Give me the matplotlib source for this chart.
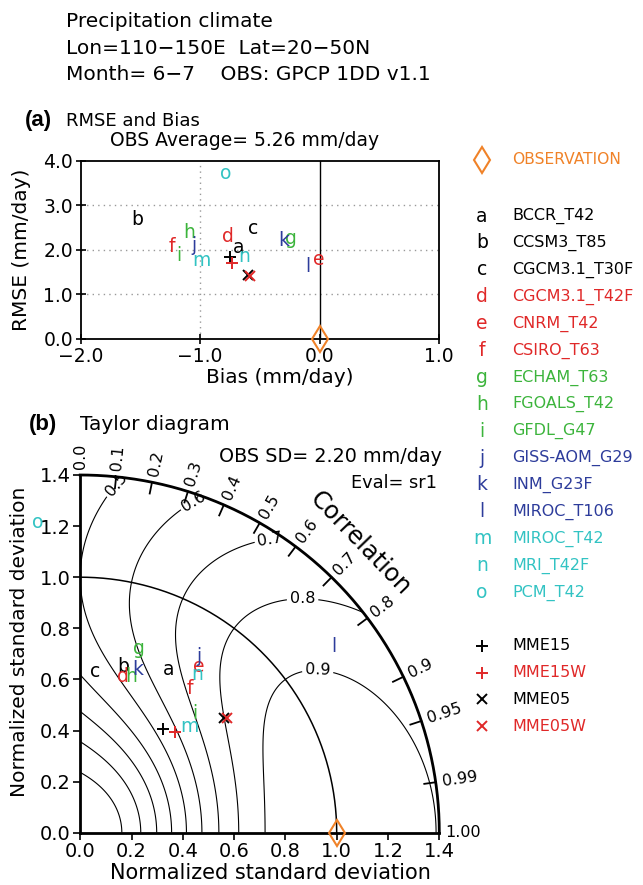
import numpy as np
import matplotlib
matplotlib.use("Agg")
import matplotlib.pyplot as plt

W, H = 643, 885
plt.rcParams['font.family'] = ['DejaVu Sans']

# ---------------- data ----------------
letters = list("abcdefghijklmno")
models = ["BCCR_T42", "CCSM3_T85", "CGCM3.1_T30F", "CGCM3.1_T42F", "CNRM_T42",
          "CSIRO_T63", "ECHAM_T63", "FGOALS_T42", "GFDL_G47", "GISS-AOM_G29",
          "INM_G23F", "MIROC_T106", "MIROC_T42", "MRI_T42F", "PCM_T42"]
RED, GREEN, BLUE, CYAN, ORANGE = "#e02828", "#3cb43c", "#2d3c9b", "#32c3c3", "#f08228"
model_colors = ["black"] * 3 + [RED] * 3 + [GREEN] * 3 + [BLUE] * 3 + [CYAN] * 3

# panel (a): bias and RMSE (mm/day)
bias = [-0.68, -1.53, -0.56, -0.77, -0.005, -1.24, -0.24, -1.09, -1.18, -1.05,
        -0.30, -0.10, -0.99, -0.63, -0.79]
rmse = [2.05, 2.68, 2.48, 2.31, 1.79, 2.08, 2.25, 2.40, 1.88, 2.10,
        2.20, 1.62, 1.77, 1.86, 3.71]

# panel (b): Taylor diagram positions (x = sd*corr, y = sd*sin)
tx = [0.346, 0.168, 0.058, 0.166, 0.464, 0.428, 0.229, 0.200, 0.445, 0.464,
      0.224, 0.987, 0.425, 0.458, -0.165]
ty = [0.640, 0.650, 0.630, 0.610, 0.650, 0.565, 0.720, 0.610, 0.467, 0.690,
      0.640, 0.728, 0.415, 0.620, 1.216]

ens_names = ["MME15", "MME15W", "MME05", "MME05W"]
ens_markers = ["+", "+", "x", "x"]
ens_colors = ["black", RED, "black", RED]
ens_bias = [-0.752, -0.73, -0.60, -0.58]
ens_rmse = [1.83, 1.71, 1.43, 1.42]
ens_tx = [0.324, 0.370, 0.560, 0.571]
ens_ty = [0.405, 0.395, 0.448, 0.448]

obs_bias, obs_rmse = 0.0, 0.0
obs_tx, obs_ty = 1.0, 0.0

corr_ticks = [0.0, 0.1, 0.2, 0.3, 0.4, 0.5, 0.6, 0.7, 0.8, 0.9, 0.95, 0.99, 1.0]
corr_labels = ["0.0", "0.1", "0.2", "0.3", "0.4", "0.5", "0.6", "0.7", "0.8",
               "0.9", "0.95", "0.99", "1.00"]
skill_levels = [0.1, 0.2, 0.3, 0.4, 0.5, 0.6, 0.7, 0.8, 0.9]

title_lines = ["Precipitation climate", "Lon=110\u2212150E  Lat=20\u221250N",
               "Month= 6\u22127    OBS: GPCP 1DD v1.1"]


def P(x, y):
    return x / W, 1 - y / H


def msize(m):
    return 9 if m == "+" else 7.5


fig = plt.figure(figsize=(W / 100, H / 100), dpi=100)

# ---------------- titles ----------------
for i, line in enumerate(title_lines):
    fig.text(*P(66, 27 + 26.7 * i), line, fontsize=14.5, va='baseline', ha='left')

fig.text(*P(25, 126), "(a)", fontsize=16, fontweight='bold',
         family='Liberation Sans', va='baseline', ha='left')
fig.text(*P(66, 126), "RMSE and Bias", fontsize=13, va='baseline', ha='left')
fig.text(*P(245, 141), "OBS Average= 5.26 mm/day", fontsize=13.5, va='center', ha='center')

fig.text(*P(29, 430), "(b)", fontsize=16, fontweight='bold',
         family='Liberation Sans', va='baseline', ha='left')
fig.text(*P(80, 430), "Taylor diagram", fontsize=14.5, va='baseline', ha='left')
fig.text(*P(442, 456), "OBS SD= 2.20 mm/day", fontsize=13.8, va='center', ha='right')
fig.text(*P(437, 483), "Eval= sr1", fontsize=12.8, va='center', ha='right')

# ---------------- panel (a) ----------------
l, t, r, b = 80.7, 160.7, 439.0, 339.0
axa = fig.add_axes([l / W, 1 - b / H, (r - l) / W, (b - t) / H])
axa.set_xlim(-2.0, 1.0)
axa.set_ylim(0.0, 4.0)
axa.set_xticks([-2.0, -1.0, 0.0, 1.0])
axa.set_xticklabels(["\u22122.0", "\u22121.0", "0.0", "1.0"])
axa.set_yticks([0.0, 1.0, 2.0, 3.0, 4.0])
axa.set_yticklabels(["0.0", "1.0", "2.0", "3.0", "4.0"])
axa.tick_params(labelsize=13.5, direction='inout', length=7, width=1.2, pad=2)
for s in axa.spines.values():
    s.set_linewidth(1.3)
for yv in [1.0, 2.0, 3.0]:
    axa.axhline(yv, color='#999999', ls=(0, (1, 3)), lw=1.0, zorder=0)
axa.axvline(-1.0, color='#999999', ls=(0, (1, 3)), lw=1.0, zorder=0)
axa.axvline(0.0, color='black', lw=1.0, zorder=1)
for k in range(len(letters)):
    axa.text(bias[k], rmse[k], letters[k], color=model_colors[k], fontsize=13.5,
             ha='center', va='center', zorder=3)
for k in range(4):
    axa.plot(ens_bias[k], ens_rmse[k], marker=ens_markers[k], color=ens_colors[k],
             ms=msize(ens_markers[k]), mew=1.4, ls='none', zorder=3)
axa.plot(obs_bias, obs_rmse, marker='d', ms=13, mfc='none', mec=ORANGE, mew=1.5,
         clip_on=False, zorder=5)
fig.text(*P(22, 250), "RMSE (mm/day)", fontsize=14.5, rotation=90, va='center', ha='center')
fig.text(*P(280, 378), "Bias (mm/day)", fontsize=14.5, va='center', ha='center')

# ---------------- panel (b) ----------------
l, t, r, b = 80.2, 475.0, 439.3, 832.7
axb = fig.add_axes([l / W, 1 - b / H, (r - l) / W, (b - t) / H])
axb.set_xlim(0, 1.4)
axb.set_ylim(0, 1.4)
ticks = [0.0, 0.2, 0.4, 0.6, 0.8, 1.0, 1.2, 1.4]
axb.set_xticks(ticks)
axb.set_yticks(ticks)
axb.set_xticklabels([f"{v:.1f}" for v in ticks])
axb.set_yticklabels([f"{v:.1f}" for v in ticks])
axb.tick_params(labelsize=14, direction='out', length=5, width=1.2, pad=2)
axb.spines['top'].set_visible(False)
axb.spines['right'].set_visible(False)
axb.spines['left'].set_linewidth(2.0)
axb.spines['bottom'].set_linewidth(2.0)
axb.patch.set_visible(False)

# skill score contours
g = np.linspace(0.0005, 1.42, 700)
X, Y = np.meshgrid(g, g)
SD = np.hypot(X, Y)
R = X / SD
S = 2 * (1 + R) / (SD + 1 / SD) ** 2
S = np.ma.masked_where(SD > 1.4, S)
cs = axb.contour(X, Y, S, levels=skill_levels, colors='black', linewidths=0.8)
axb.clabel(cs, fmt='%.1f', fontsize=11.5, inline=True, inline_spacing=3,
           manual=[(0.136, 1.368), (0.441, 1.302), (0.74, 1.15),
                   (0.867, 0.91), (0.926, 0.633)])

th = np.linspace(0, np.pi / 2, 300)
axb.plot(1.4 * np.cos(th), 1.4 * np.sin(th), color='black', lw=2.0, clip_on=False)
axb.plot(np.cos(th), np.sin(th), color='black', lw=1.1)

for c, txt in zip(corr_ticks, corr_labels):
    a = np.arccos(c)
    if 0.0 < c < 1.0:
        axb.plot([1.4 * np.cos(a), 1.355 * np.cos(a)], [1.4 * np.sin(a), 1.355 * np.sin(a)],
                 color='black', lw=1.3, clip_on=False)
    axb.text(1.425 * np.cos(a), 1.425 * np.sin(a), txt, fontsize=11.5,
             rotation=np.degrees(a), rotation_mode='anchor', ha='left', va='center',
             clip_on=False)
axb.text(1.09, 1.134, "Correlation", fontsize=17.5, rotation=-46, ha='center', va='center')

for k in range(len(letters)):
    axb.text(tx[k], ty[k], letters[k], color=model_colors[k], fontsize=13.5,
             ha='center', va='center', zorder=3, clip_on=False)
for k in range(4):
    axb.plot(ens_tx[k], ens_ty[k], marker=ens_markers[k], color=ens_colors[k],
             ms=msize(ens_markers[k]), mew=1.4, ls='none', zorder=3)
axb.plot(obs_tx, obs_ty, marker='d', ms=13, mfc='none', mec=ORANGE, mew=1.5,
         clip_on=False, zorder=5)
fig.text(*P(20, 642), "Normalized standard deviation", fontsize=14.5, rotation=90,
         va='center', ha='center')
fig.text(*P(270, 873), "Normalized standard deviation", fontsize=15,
         va='center', ha='center')

# ---------------- legend ----------------
mx, tx0 = 482, 512
fig.text(*P(tx0, 160), "OBSERVATION", color=ORANGE, fontsize=11.2, va='center', ha='left')
fig.lines.append(plt.Line2D([mx / W], [1 - 160 / H], marker='d', ms=13, mfc='none',
                            mec=ORANGE, mew=1.5, transform=fig.transFigure))
for k in range(len(letters)):
    yy = 216 + 26.9 * k
    fig.text(*P(mx, yy), letters[k], color=model_colors[k], fontsize=13.5,
             va='center', ha='center')
    fig.text(*P(tx0, yy), models[k], color=model_colors[k], fontsize=11.5,
             va='center', ha='left')
for k in range(4):
    yy = 646 + 26.7 * k
    fig.lines.append(plt.Line2D([mx / W], [1 - yy / H], marker=ens_markers[k],
                                color=ens_colors[k], ms=msize(ens_markers[k]), mew=1.4,
                                transform=fig.transFigure))
    fig.text(*P(tx0, yy), ens_names[k], color=ens_colors[k], fontsize=11.5,
             va='center', ha='left')

fig.savefig("out.png", dpi=100)
